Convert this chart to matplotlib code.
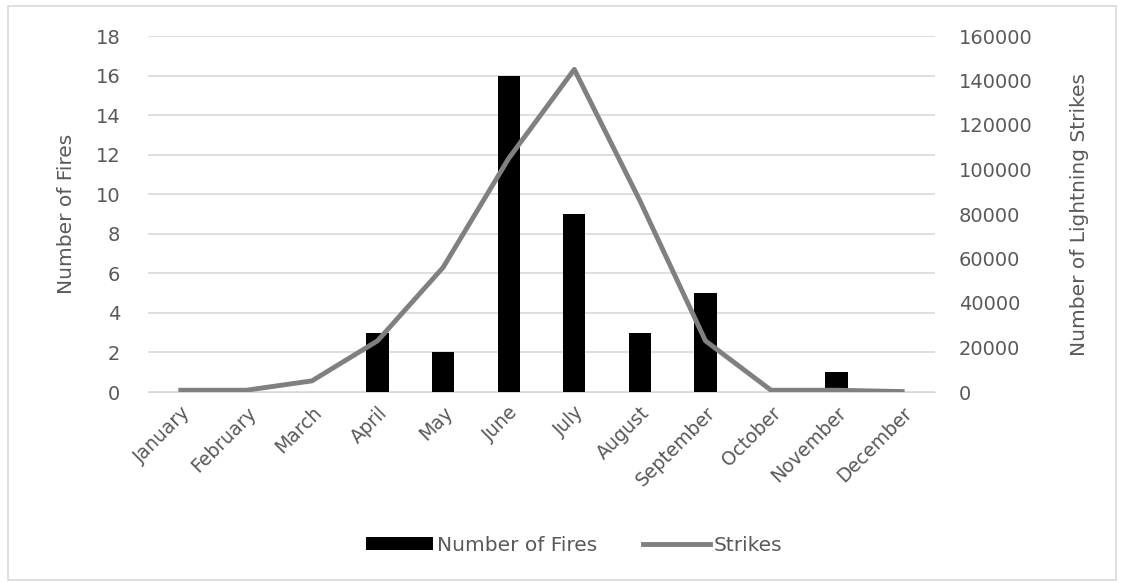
import matplotlib
matplotlib.use("Agg")
import matplotlib.pyplot as plt
from matplotlib.patches import Rectangle

months = ["January", "February", "March", "April", "May", "June", "July",
          "August", "September", "October", "November", "December"]
fires = [0, 0, 0, 3, 2, 16, 9, 3, 5, 0, 1, 0]
strikes = [800, 800, 5000, 23000, 56000, 105000, 145000, 86000, 23000, 800, 800, 200]

plt.rcParams['font.family'] = ['DejaVu Sans']
txt = '#595959'

fig = plt.figure(figsize=(11.22, 5.83), dpi=100)
fig.patches.append(Rectangle((0.007, 0.005), 0.988, 0.985, transform=fig.transFigure,
                             fill=False, edgecolor='#d9d9d9', lw=1.2))
ax = fig.add_axes([148/1122, 1-392/583, (935-148)/1122, (392-36)/583])
ax2 = ax.twinx()

x = list(range(len(months)))
b = ax.bar(x, fires, width=0.34, color='black', zorder=3, label='Number of Fires')
l, = ax2.plot(x, strikes, color='#808080', lw=3.5, zorder=4, label='Strikes')

ax.set_ylim(0, 18)
ax.set_yticks(range(0, 19, 2))
ax2.set_ylim(0, 160000)
ax2.set_yticks(range(0, 160001, 20000))
ax.set_xlim(-0.5, 11.5)
ax.set_xticks(x)
ax.set_xticklabels(months, rotation=45, ha='right', rotation_mode='anchor')
ax.yaxis.grid(True, color='#d9d9d9', lw=1.2, zorder=0)
ax.set_axisbelow(True)
ax.set_zorder(ax2.get_zorder() - 1)
ax.patch.set_visible(False)

for a in (ax, ax2):
    for s in a.spines.values():
        s.set_visible(False)
    a.tick_params(length=0, colors=txt, labelsize=14)
ax.spines['bottom'].set_visible(True)
ax.spines['bottom'].set_color('#d9d9d9')
ax.tick_params(axis='x', pad=8, labelsize=13.5)
ax.tick_params(axis='y', pad=20)
ax2.tick_params(axis='y', pad=17)

ax.set_ylabel('Number of Fires', color=txt, fontsize=14.5, labelpad=14)
ax2.set_ylabel('Number of Lightning Strikes', color=txt, fontsize=14.5, labelpad=27)

fig.legend([b, l], ['Number of Fires', 'Strikes'], loc='center', bbox_to_anchor=(0.512, 0.065),
           ncol=2, frameon=False, fontsize=14.5, labelcolor=txt, handlelength=3.3,
           handletextpad=0.2, columnspacing=2.3, handleheight=0.6)

fig.savefig('out.png', dpi=100)
